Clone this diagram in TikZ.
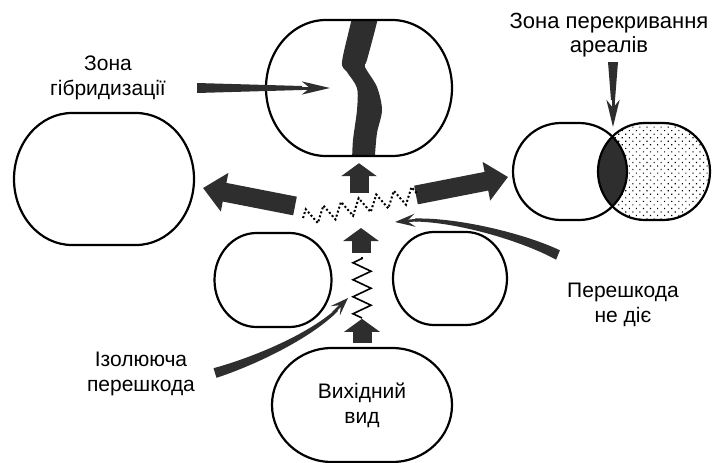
\documentclass[tikz,border=0pt]{standalone}
\usepackage{fontspec}
\setmainfont{Liberation Sans}
\usetikzlibrary{arrows.meta,decorations.pathmorphing,patterns.meta,calc}
\colorlet{ink}{black!82}
% outline of an areal: node, half width, half height, corner x radius, corner y radius
\newcommand{\arealpath}[5]{($(#1.center)+(-#2,0)$) -- ++(0,{-(#3-#5)})
  arc[start angle=180,end angle=270,x radius=#4,y radius=#5] -- ++({2*(#2-#4)},0)
  arc[start angle=270,end angle=360,x radius=#4,y radius=#5] -- ++(0,{2*(#3-#5)})
  arc[start angle=0,end angle=90,x radius=#4,y radius=#5] -- ++({-2*(#2-#4)},0)
  arc[start angle=90,end angle=180,x radius=#4,y radius=#5] -- cycle}
\tikzset{
  areal/.style={inner sep=0pt},
  rim/.style={draw,line width=2.2pt},
  lbl/.style={align=center,inner sep=0pt},
  fat/.style={draw=ink,line width=19pt,-{Triangle[length=22pt,width=38pt]}},
  upfat/.style={draw=ink,line width=19pt,-{Triangle[length=13pt,width=35pt]}},
  barb/.style={draw=ink,line width=3pt,-{Stealth[length=#1,width=13pt,inset=8pt]}}
}
\begin{document}
\begin{tikzpicture}[x=1pt,y=-1pt,every node/.style={font=\fontsize{21}{25}\selectfont}]
\useasboundingbox (0,0) rectangle (712,463);
% areals
\node[areal,minimum width=186pt,minimum height=136pt] (hybzone) at (359,88) {};
\node[areal,minimum width=180pt,minimum height=132pt] (westrange) at (104,179) {};
\node[areal,minimum width=114pt,minimum height=97pt] (overA) at (570,171.5) {};
\node[areal,minimum width=112pt,minimum height=97pt] (overB) at (654,171.5) {};
\node[areal,minimum width=117pt,minimum height=94pt] (midwest) at (273,280) {};
\node[areal,minimum width=114pt,minimum height=93pt] (mideast) at (450,278.5) {};
\node[areal,lbl,minimum width=180pt,minimum height=114pt] (origin) at (362,405) {Вихідний\\вид};
% overlap pair: dotted areal and dark lens
\fill[pattern={Dots[distance=5pt,radius=0.8pt,angle=45]}] \arealpath{overB}{56}{48.5}{47}{48.5};
\begin{scope}
  \clip \arealpath{overA}{57}{48.5}{48}{48.5};
  \fill[ink] \arealpath{overB}{56}{48.5}{47}{48.5};
\end{scope}
\draw[rim] \arealpath{overA}{57}{48.5}{48}{48.5};
\draw[rim] \arealpath{overB}{56}{48.5}{47}{48.5};
% hybrid zone with its band
\begin{scope}
  \clip \arealpath{hybzone}{93}{68}{60}{68};
  \fill[ink] plot[smooth,tension=0.5] coordinates {(352,14) (351,22) (342,62) (347,72) (357,88) (357,110) (353,140) (352,162)}
    -- plot[smooth,tension=0.5] coordinates {(375,162) (375,155) (377,133) (382,110) (377,87) (365,67) (367,60) (377,22) (377,14)} -- cycle;
\end{scope}
\draw[rim] \arealpath{hybzone}{93}{68}{60}{68};
\draw[rim] \arealpath{westrange}{90}{66}{58}{66};
\draw[rim] \arealpath{midwest}{58.5}{47}{42}{47};
\draw[rim] \arealpath{mideast}{57}{46.5}{41}{46.5};
\draw[rim] \arealpath{origin}{90}{57}{60}{57};
% labels
\node[lbl] (lblhyb) at (108,78) {Зона\\гібридизації};
\node[lbl,font=\fontsize{22}{24.5}\selectfont] (lblover) at (609,35) {Зона перекривання\\ареалів};
\node[lbl] (lbliso) at (141,374) {Ізолююча\\перешкода};
\node[lbl] (lblfree) at (623,305) {Перешкода\\не діє};
% pointers from the labels
\coordinate (hybtail) at (197,88);
\coordinate (hybtip) at (330,88);
\fill[ink] ($(hybtail)+(0,-5)$) -- ($(hybtip)+(-28,-2)$) -- ($(hybtip)+(-28,2)$) -- ($(hybtail)+(0,5)$) -- cycle;
\draw[barb=28pt] ($(hybtip)+(-40,0)$) -- (hybtip);
\coordinate (ovtail) at (613,62);
\coordinate (ovtip) at (613,127);
\fill[ink] ($(ovtail)+(-5,0)$) -- ($(ovtip)+(-2,-27)$) -- ($(ovtip)+(2,-27)$) -- ($(ovtail)+(5,0)$) -- cycle;
\draw[barb=27pt] ($(ovtip)+(0,-35)$) -- (ovtip);
% areal expansion arrows
\coordinate (westtail) at (295,206);
\coordinate (westtip) at (203,188);
\coordinate (easttail) at (416,195);
\coordinate (easttip) at (508,177);
\draw[fat] (westtail) -- (westtip);
\draw[fat] (easttail) -- (easttip);
\draw[upfat] ($(hybzone.south)+(0,37)$) -- ($(hybzone.south)+(0,7)$);
\draw[upfat] (361,253) -- (361,228);
\draw[upfat] ($(origin.north)+(0,-5)$) -- ($(origin.north)+(0,-29)$);
% barriers
\coordinate (zzbot) at (362,318);
\coordinate (zztop) at (362,257);
\draw[line width=1.6pt,decorate,decoration={zigzag,segment length=17pt,amplitude=9pt}] (zzbot) -- (zztop);
\coordinate (dzleft) at (303,218);
\coordinate (dzright) at (418,194);
\draw[line width=2pt,dash pattern=on 2pt off 2.2pt,decorate,decoration={zigzag,segment length=18pt,amplitude=8pt}] (dzleft) -- (dzright);
% curved pointers
\coordinate (isotip) at (348,298);
\fill[ink] (213.5,368.2) .. controls (253.8,357.2) and (308.6,334) .. (336,309) -- (338,311) .. controls (311.4,338) and (256.2,364.8) .. (216.5,377.8) -- cycle;
\draw[barb=18pt,line width=2.5pt] (333,313) -- (isotip);
\coordinate (freetip) at (395,222);
\fill[ink] (559.9,250.3) .. controls (526.8,234.4) and (460,217.5) .. (415,218.5) -- (415,221.5) .. controls (460,222.5) and (523.2,241.6) .. (556.1,259.7) -- cycle;
\draw[barb=20pt,line width=2.5pt] (418,220) -- (freetip);
\end{tikzpicture}
\end{document}
